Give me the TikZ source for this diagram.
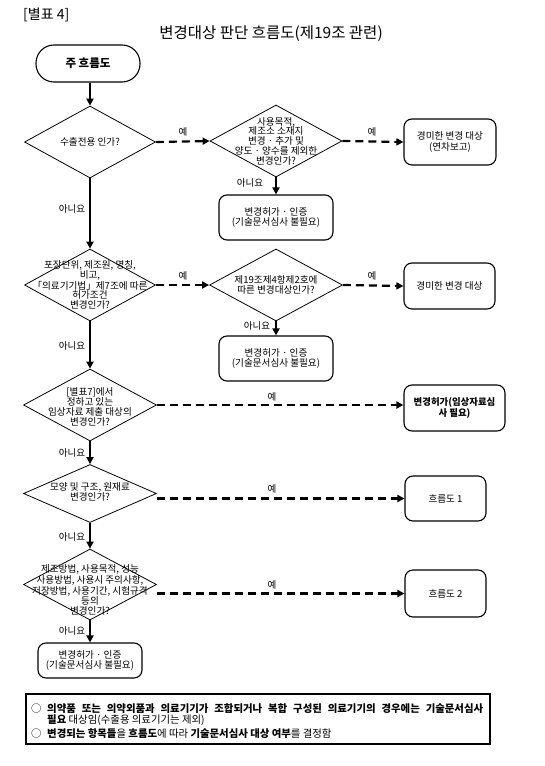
\documentclass[tikz,border=0pt]{standalone}
\usepackage{fontspec}
\setmainfont{Noto Sans CJK KR}
\usetikzlibrary{shapes.geometric,arrows.meta}
\begin{document}
\begin{tikzpicture}[x=1pt,y=-1pt,
  txt/.style={font=\fontsize{9.6}{9.8}\selectfont, align=center, inner sep=0pt},
  lbl/.style={font=\fontsize{9.5}{10}\selectfont, inner sep=0pt},
  dia/.style={draw, diamond, inner sep=0pt, line width=0.8pt},
  rbox/.style={draw, rounded corners=8pt, line width=1.1pt, inner sep=0pt, align=center, font=\fontsize{9.6}{10.8}\selectfont},
  yesarrow/.style={line width=2.2pt, dash pattern=on 8pt off 5pt, -{Triangle[length=7pt,width=7pt]}},
  noarrow/.style={line width=2pt, -{Triangle[length=7pt,width=7pt]}},
  notetxt/.style={anchor=west, inner sep=0pt, font=\fontsize{10.4}{11}\selectfont}
]
\useasboundingbox (0,0) rectangle (544,766);

% header
\node[anchor=west, inner sep=0pt, font=\fontsize{14}{16}\selectfont] (hdr) at (23,15) {[별표 4]};
\node[inner sep=0pt, font=\fontsize{15.5}{17}\selectfont] (title) at (271,34) {변경대상 판단 흐름도(제19조 관련)};

% start
\node[draw, rounded corners=18pt, minimum width=104pt, minimum height=37pt, line width=1.1pt,
      font=\bfseries\fontsize{11.5}{13}\selectfont] (start) at (88,63.5) {주 흐름도};

% diamonds
\node[dia, minimum width=131pt, minimum height=72pt] (d1) at (90,142) {};
\node[txt] (t1) at (d1) {수출전용 인가?};

\node[dia, minimum width=132pt, minimum height=72pt] (d2) at (276,141) {};
\node[txt] (t2) at (d2) {사용목적,\\제조소 소재지\\변경 · 추가 및\\양도 · 양수를 제외한\\변경인가?};

\node[dia, minimum width=131pt, minimum height=72pt] (d3) at (90,285) {};
\node[txt] (t3) at (90,285) {포장단위, 제조원, 명칭,\\비고,\\「의료기기법」제7조에 따른\\허가조건\\변경인가?};

\node[dia, minimum width=133pt, minimum height=72pt] (d4) at (276,285) {};
\node[txt] (t4) at (d4) {제19조제4항제2호에\\따른 변경대상인가?};

\node[dia, minimum width=133pt, minimum height=72pt] (d5) at (90,405) {};
\node[txt] (t5) at (90,407) {[별표7]에서\\정하고 있는\\임상자료 제출 대상의\\변경인가?};

\node[dia, minimum width=133pt, minimum height=58pt] (d6) at (90,493.5) {};
\node[txt] (t6) at (90,492) {모양 및 구조, 원재료\\변경인가?};

\node[dia, minimum width=133pt, minimum height=71pt] (d7) at (90,584.5) {};
\node[txt] (t7) at (90,590) {제조방법, 사용목적, 성능\\사용방법, 사용시 주의사항,\\저장방법, 사용기간, 시험규격\\등의\\변경인가?};

% boxes
\node[rbox, minimum width=92pt, minimum height=46pt] (m1) at (450,142) {경미한 변경 대상\\(연차보고)};
\node[rbox, minimum width=114pt, minimum height=45pt] (k1) at (276,217.5) {변경허가 · 인증\\(기술문서심사 불필요)};
\node[rbox, minimum width=91pt, minimum height=46pt] (m2) at (449.5,286) {경미한 변경 대상};
\node[rbox, minimum width=114pt, minimum height=45pt] (k2) at (276,358.5) {변경허가 · 인증\\(기술문서심사 불필요)};
\node[rbox, minimum width=101pt, minimum height=46pt, font=\bfseries\fontsize{9.4}{9.8}\selectfont] (cl) at (454.5,408) {변경허가(임상자료심\\사 필요)};
\node[rbox, minimum width=81pt, minimum height=45pt] (f1) at (445.5,498.5) {흐름도 1};
\node[rbox, minimum width=81pt, minimum height=47pt] (f2) at (445.5,593.5) {흐름도 2};
\node[rbox, minimum width=104pt, minimum height=35pt] (k3) at (90,660.5) {변경허가 · 인증\\(기술문서심사 불필요)};

% main column arrows
\draw[noarrow] (start.south -| d1.north) -- (d1.north);
\draw[noarrow] (d1.south) -- (d3.north);
\draw[noarrow] (d3.south) -- (d5.north);
\draw[noarrow] (d5.south) -- (d6.north);
\draw[noarrow] (d6.south) -- (d7.north);
\draw[noarrow] (d7.south) -- (k3.north);
\draw[noarrow] (d2.south) -- (k1.north);
\draw[noarrow] (d4.south) -- (k2.north);

% yes arrows
\draw[yesarrow] (d1.east) -- (d2.west);
\draw[yesarrow] (d2.east) -- (m1.west);
\draw[yesarrow] (d3.east) -- (d4.west);
\draw[yesarrow] (d4.east) -- (m2.west);
\draw[yesarrow] (d5.east) -- (d5.east -| cl.west);
\draw[yesarrow] (d6.east |- f1.west) -- (f1.west);
\draw[yesarrow] (d7.east |- f2.west) -- (f2.west);

% labels
\node[lbl] (y1) at (183,132) {예};
\node[lbl] (y2) at (372,132) {예};
\node[lbl] (y3) at (183,276) {예};
\node[lbl] (y4) at (372,276) {예};
\node[lbl] (y5) at (272,397) {예};
\node[lbl] (y6) at (272,489) {예};
\node[lbl] (y7) at (272,585) {예};
\node[lbl] (n1) at (72,209) {아니요};
\node[lbl] (n2) at (250,183) {아니요};
\node[lbl] (n3) at (72,346) {아니요};
\node[lbl] (n4) at (257,326) {아니요};
\node[lbl] (n5) at (72,453) {아니요};
\node[lbl] (n6) at (72,537) {아니요};
\node[lbl] (n7) at (72,631) {아니요};

% note box
\draw[line width=1.4pt] (26,694) rectangle (490,744);
\node[notetxt] (c1) at (31,709) {○};
\node[notetxt] (l1) at (47,709)
  {\makebox[436pt][s]{\bfseries 의약품 또는 의약외품과 의료기기가 조합되거나 복합 구성된 의료기기의 경우에는 기술문서심사}};
\node[notetxt] (l2) at (47,720)
  {{\bfseries 필요} 대상임(수출용 의료기기는 제외)};
\node[notetxt] (c2) at (31,734) {○};
\node[notetxt] (l3) at (47,734)
  {{\bfseries 변경되는 항목들}을 {\bfseries 흐름도}에 따라 {\bfseries 기술문서심사 대상 여부}를 결정함};
\end{tikzpicture}
\end{document}
